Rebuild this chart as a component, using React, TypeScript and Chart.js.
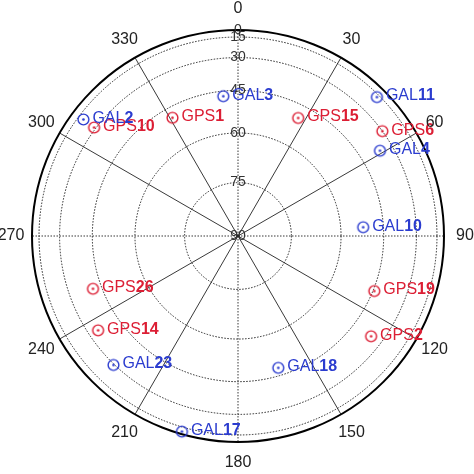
import { useEffect, useRef } from 'react';
import { Chart, registerables } from 'chart.js';

Chart.register(...registerables);

const FONT = '"Liberation Sans", Arial, Helvetica, sans-serif';
const DEG = Math.PI / 180;

// Azimuth tick labels (degrees, clockwise from north)
const AZ_TICKS = [0, 30, 60, 90, 120, 150, 180, 210, 240, 270, 300, 330];
// Elevation ring labels (centre = 90, rim = 0)
const ELEV_TICKS = [90, 75, 60, 45, 30, 15, 0];

// GPS satellites
const GPS_PRN = ['1', '10', '15', '6', '19', '2', '14', '26'];
const GPS_AZ = [331, 307, 27, 54, 112, 127, 236, 250];
const GPS_EL = [49, 29, 50, 30, 44.5, 36, 35, 41.5];

// Galileo satellites
const GAL_PRN = ['3', '2', '11', '4', '10', '18', '17', '23'];
const GAL_AZ = [354, 307, 45, 59, 86, 163, 196, 224];
const GAL_EL = [47, 20, 17.5, 36.5, 52.5, 48, 9, 29.5];

const GPS_COLOR = '#dc1e34';
const GAL_COLOR = '#2b3ccf';

const AZ_LABELS = Array.from({ length: 360 }, (_, i) => String(i));

function buildSeries(az: number[], el: number[]) {
  const arr: (number | null)[] = new Array(360).fill(null);
  az.forEach((a, i) => {
    arr[a % 360] = Math.cos(el[i] * DEG);
  });
  return arr;
}

function makeMarker(color: string) {
  const c = document.createElement('canvas');
  c.width = 15;
  c.height = 15;
  const g = c.getContext('2d')!;
  g.strokeStyle = color;
  g.fillStyle = color;
  g.lineWidth = 1.4;
  g.beginPath();
  g.arc(7.5, 7.5, 5.4, 0, Math.PI * 2);
  g.stroke();
  g.beginPath();
  g.arc(7.5, 7.5, 1.3, 0, Math.PI * 2);
  g.fill();
  return c;
}

const azLabelPlugin = {
  id: 'azLabels',
  afterDraw(chart: any) {
    const s = chart.scales.r;
    const ctx = chart.ctx;
    ctx.save();
    ctx.font = `16px ${FONT}`;
    ctx.fillStyle = '#222';
    ctx.textAlign = 'center';
    ctx.textBaseline = 'middle';
    AZ_TICKS.forEach((a) => {
      const p = s.getPointPosition(a, s.drawingArea + 21);
      ctx.fillText(String(a), p.x, p.y);
    });
    ctx.restore();
  },
};

const satLabelPlugin = {
  id: 'satLabels',
  afterDatasetsDraw(chart: any) {
    const ctx = chart.ctx;
    const groups = [
      { az: GPS_AZ, prn: GPS_PRN, name: 'GPS', color: GPS_COLOR },
      { az: GAL_AZ, prn: GAL_PRN, name: 'GAL', color: GAL_COLOR },
    ];
    ctx.save();
    ctx.textBaseline = 'middle';
    ctx.textAlign = 'left';
    groups.forEach((g, di) => {
      const meta = chart.getDatasetMeta(di);
      g.az.forEach((a: number, i: number) => {
        const el = meta.data[a % 360];
        if (!el) return;
        const x = el.x + 9;
        const y = el.y - 1;
        ctx.fillStyle = g.color;
        ctx.font = `16px ${FONT}`;
        ctx.fillText(g.name, x, y);
        const w = ctx.measureText(g.name).width;
        ctx.font = `bold 16px ${FONT}`;
        ctx.fillText(g.prn[i], x + w, y);
      });
    });
    ctx.restore();
  },
};

export default function App() {
  const ref = useRef<HTMLCanvasElement>(null);

  useEffect(() => {
    if (!ref.current) return;
    const last = ELEV_TICKS.length - 1;
    const chart = new Chart(ref.current, {
      type: 'radar',
      data: {
        labels: AZ_LABELS,
        datasets: [
          {
            label: 'GPS',
            data: buildSeries(GPS_AZ, GPS_EL),
            showLine: false,
            borderWidth: 0,
            fill: false,
            pointStyle: makeMarker(GPS_COLOR) as any,
            pointRadius: 5,
            pointHoverRadius: 5,
          },
          {
            label: 'GAL',
            data: buildSeries(GAL_AZ, GAL_EL),
            showLine: false,
            borderWidth: 0,
            fill: false,
            pointStyle: makeMarker(GAL_COLOR) as any,
            pointRadius: 5,
            pointHoverRadius: 5,
          },
        ],
      },
      options: {
        responsive: false,
        animation: false,
        events: [],
        layout: { padding: { left: 23, right: 21, top: 21, bottom: 23 } },
        plugins: { legend: { display: false }, tooltip: { enabled: false } },
        scales: {
          r: {
            min: -0.0005,
            max: 1,
            startAngle: 0,
            afterBuildTicks: (s: any) => {
              s.ticks = ELEV_TICKS.map((e) => ({ value: Math.cos(e * DEG) }));
            },
            ticks: {
              callback: (_v: any, i: number) => String(ELEV_TICKS[i]),
              showLabelBackdrop: false,
              color: '#333',
              font: { size: 14, family: FONT },
            },
            grid: {
              circular: true,
              color: (c: any) => (c.index === last ? '#000' : '#222'),
              lineWidth: (c: any) => (c.index === 0 ? 0 : c.index === last ? 2 : 1),
            },
            border: {
              dash: (c: any) => (c.index === last ? [] : [1.5, 1.5]),
            } as any,
            angleLines: {
              color: '#222',
              lineWidth: (c: any) => (c.index % 30 === 0 ? 0.9 : 0),
              borderDash: (c: any) => (c.index % 90 === 0 ? [1.5, 1.5] : []),
            } as any,
            pointLabels: { display: false },
          },
        },
      },
      plugins: [azLabelPlugin, satLabelPlugin],
    } as any);
    return () => chart.destroy();
  }, []);

  return (
    <div style={{ position: 'absolute', left: 0, top: 0, width: 474, height: 474, background: '#fff' }}>
      <canvas ref={ref} width={474} height={474} />
    </div>
  );
}
